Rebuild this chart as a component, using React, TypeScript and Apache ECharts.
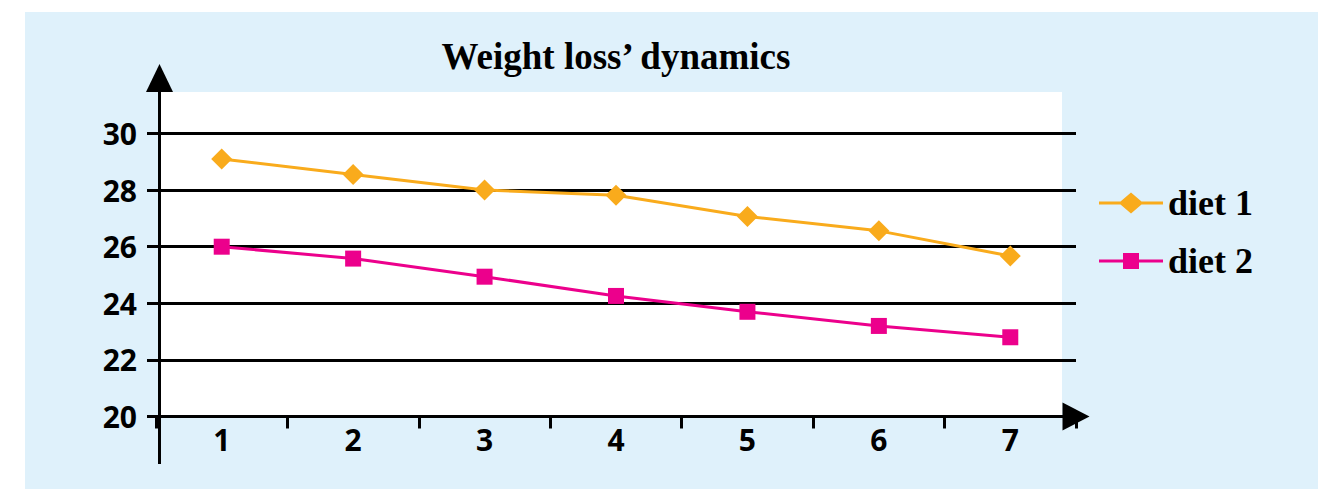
import React, { useEffect, useRef } from "react";
import * as echarts from "echarts";

const categories = ["1", "2", "3", "4", "5", "6", "7"];
const diet1 = [29.1, 28.55, 28.0, 27.82, 27.07, 26.56, 25.67];
const diet2 = [26.0, 25.58, 24.94, 24.26, 23.7, 23.2, 22.8];
const seriesNames = ["diet 1", "diet 2"];
const titleText = "Weight loss\u2019 dynamics";

const ORANGE = "#F9AB1C";
const PINK = "#EC008C";
const BLUE_BG = "#DFF1FB";
const SANS = "'Open Sans', sans-serif";
const SERIF = "'Liberation Serif', serif";

// legend icons: a 3px line with the series marker in its middle
const ICON_DIAMOND =
  "path://M0,9L21.5,9L32,0L42.5,9L64,9L64,12L42.5,12L32,21L21.5,12L0,12Z";
const ICON_SQUARE =
  "path://M0,9L24,9L24,2.5L40,2.5L40,9L64,9L64,12L40,12L40,18.5L24,18.5L24,12L0,12Z";

export default function App() {
  const ref = useRef<HTMLDivElement>(null);
  useEffect(() => {
    if (!ref.current) return;
    const chart = echarts.init(ref.current, undefined, { renderer: "svg" });
    chart.setOption({
      animation: false,
      backgroundColor: "#ffffff",
      title: {
        text: titleText,
        left: 611,
        textAlign: "center",
        top: 33,
        textStyle: { fontFamily: SERIF, fontWeight: "bold", fontSize: 37, color: "#000" },
      },
      legend: {
        orient: "vertical",
        left: 1099,
        top: 185,
        padding: 0,
        itemWidth: 64,
        itemHeight: 21,
        itemGap: 22,
        symbolKeepAspect: true,
        textStyle: { fontFamily: SERIF, fontWeight: "bold", fontSize: 36, color: "#000" },
        data: [
          { name: seriesNames[0], icon: ICON_DIAMOND },
          { name: seriesNames[1], icon: ICON_SQUARE },
        ],
      },
      graphic: [
        { type: "rect", z: -20, shape: { x: 25, y: 12, width: 1293, height: 477 }, style: { fill: BLUE_BG } },
        { type: "rect", z: -19, shape: { x: 159, y: 92, width: 903, height: 325 }, style: { fill: "#ffffff" } },
        { type: "line", z: 10, shape: { x1: 159.5, y1: 134, x2: 159.5, y2: 90 }, style: { stroke: "#000", lineWidth: 3 } },
        { type: "line", z: 10, shape: { x1: 159.5, y1: 416, x2: 159.5, y2: 464 }, style: { stroke: "#000", lineWidth: 3 } },
        { type: "polygon", z: 10, shape: { points: [[159.5, 64], [146, 92], [173, 92]] }, style: { fill: "#000" } },
      ],
      grid: { left: 156, right: 242, top: 133.5, bottom: 72.5, containLabel: false },
      xAxis: {
        type: "category",
        data: categories,
        boundaryGap: true,
        axisLine: {
          show: true,
          lineStyle: { color: "#000", width: 3 },
          symbol: ["none", "triangle"],
          symbolSize: [28, 27],
          symbolOffset: [0, 0],
        },
        axisTick: { show: true, inside: false, length: 12, lineStyle: { color: "#000", width: 3 } },
        axisLabel: { fontFamily: SANS, fontWeight: "bold", fontSize: 30, color: "#000", margin: 8 },
        splitLine: { show: false },
      },
      yAxis: {
        type: "value",
        min: 20,
        max: 30,
        interval: 2,
        offset: -3,
        axisLine: { show: true, lineStyle: { color: "#000", width: 3 } },
        axisTick: { show: true, length: 12, lineStyle: { color: "#000", width: 3 } },
        axisLabel: { fontFamily: SANS, fontWeight: "bold", fontSize: 30, color: "#000", margin: 22 },
        splitLine: { show: true, lineStyle: { color: "#000", width: 3 } },
      },
      series: [
        {
          name: seriesNames[0],
          type: "line",
          data: diet1,
          symbol: "diamond",
          symbolSize: 21,
          itemStyle: { color: ORANGE },
          lineStyle: { color: ORANGE, width: 3 },
          z: 5,
        },
        {
          name: seriesNames[1],
          type: "line",
          data: diet2,
          symbol: "rect",
          symbolSize: 16,
          itemStyle: { color: PINK },
          lineStyle: { color: PINK, width: 3 },
          z: 5,
        },
      ],
    });
    return () => chart.dispose();
  }, []);
  return (
    <div
      ref={ref}
      style={{ position: "fixed", left: 0, top: 0, width: 1318, height: 489 }}
    />
  );
}
